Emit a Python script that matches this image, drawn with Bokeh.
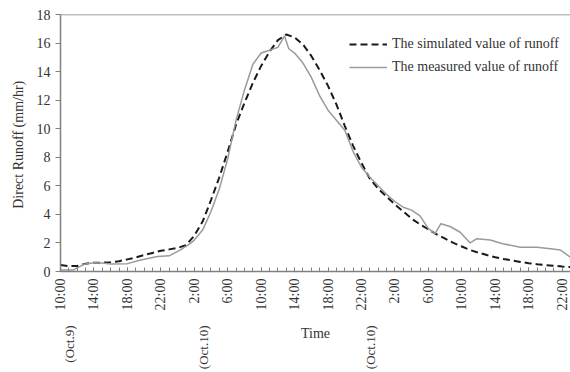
import math
from bokeh.plotting import figure
from bokeh.models import FixedTicker, Span, Legend, LegendItem, Range1d, LinearAxis
from bokeh.embed import file_html
from bokeh.resources import INLINE

# ---- data (hours after 10:00 Oct 9) ----
sim_hours = list(range(0, 62))
sim_values = [0.45, 0.38, 0.38, 0.55, 0.62, 0.62, 0.65, 0.72, 0.85, 0.98,
              1.15, 1.30, 1.45, 1.55, 1.65, 1.85, 2.5, 3.5, 5.0, 6.6,
              8.4, 10.3, 11.8, 13.2, 14.4, 15.4, 16.2, 16.6, 16.4, 15.9,
              15.1, 14.1, 13.0, 11.7, 10.2, 8.8, 7.6, 6.5, 5.8, 5.25,
              4.7, 4.2, 3.7, 3.3, 2.95, 2.6, 2.3, 2.0, 1.75, 1.5,
              1.32, 1.15, 1.0, 0.88, 0.77, 0.67, 0.58, 0.51, 0.45, 0.40,
              0.35, 0.31]

meas_hours = [0, 1.5, 2.8, 4, 5, 6, 8, 9.6, 11.6, 13, 14.3, 15.5, 16, 17, 18,
              19, 20, 21, 22, 23, 24, 25, 26, 26.8, 27.3, 28, 29, 30, 31, 32,
              33, 34, 35, 36, 37, 38, 39, 40, 41, 42, 43, 44, 44.8, 45.5,
              46.6, 47.8, 49, 49.8, 51.4, 52.9, 55, 57, 58.6, 59.8, 61]
meas_values = [0.1, 0.1, 0.5, 0.62, 0.6, 0.52, 0.55, 0.8, 1.05, 1.1, 1.5, 1.95,
               2.2, 2.9, 4.2, 5.8, 7.9, 10.6, 12.7, 14.5, 15.3, 15.5, 15.7,
               16.5, 15.6, 15.3, 14.6, 13.6, 12.3, 11.3, 10.6, 9.9, 8.4, 7.3,
               6.6, 6.0, 5.4, 4.9, 4.5, 4.3, 3.9, 3.0, 2.65, 3.35, 3.15, 2.75,
               2.0, 2.3, 2.2, 1.95, 1.7, 1.7, 1.6, 1.5, 1.0]

tick_hours = list(range(0, 61, 4))
tick_labels = ["10:00", "14:00", "18:00", "22:00", "2:00", "6:00", "10:00",
               "14:00", "18:00", "22:00", "2:00", "6:00", "10:00", "14:00",
               "18:00", "22:00"]
date_hours = [0, 16, 36]
date_labels = ["(Oct.9)", "(Oct.10)", "(Oct.10)"]

y_ticks = list(range(0, 19, 2))

SERIF = "Liberation Serif"
AXIS_GRAY = "#808080"
TEXT = "#333333"
DATE_SHIFT = 1.1  # hours: date text sits a little right of its time tick

p = figure(width=570, height=372, output_backend="svg", toolbar_location=None,
           x_range=Range1d(0, 61), y_range=Range1d(0, 18),
           min_border_left=60, min_border_right=0, min_border_top=14,
           min_border_bottom=101)
p.outline_line_color = None
p.grid.grid_line_color = None
p.background_fill_color = "white"
p.border_fill_color = "white"

sim = p.line(sim_hours, sim_values, line_color="#1a1a1a", line_width=2,
             line_dash="7 4")
meas = p.line(meas_hours, meas_values, line_color="#9a9a9a", line_width=1.5)

# top border line
p.add_layout(Span(location=18, dimension="width", line_color=AXIS_GRAY,
                  line_width=1.5))

# x axis
xa = p.xaxis[0]
xa.ticker = FixedTicker(ticks=tick_hours, minor_ticks=list(range(0, 62)))
xa.major_label_overrides = {h: l for h, l in zip(tick_hours, tick_labels)}
xa.major_label_orientation = math.pi / 2
xa.major_tick_in = 4
xa.major_tick_out = 0
xa.minor_tick_in = 4
xa.minor_tick_out = 0
xa.major_tick_line_color = AXIS_GRAY
xa.minor_tick_line_color = AXIS_GRAY
xa.axis_line_color = AXIS_GRAY
xa.axis_line_width = 1.5
xa.major_label_text_font = SERIF
xa.major_label_text_font_size = "14px"
xa.major_label_text_color = TEXT
xa.major_label_standoff = 7
xa.axis_label = "Time"
xa.axis_label_text_font = SERIF
xa.axis_label_text_font_size = "14px"
xa.axis_label_text_font_style = "normal"
xa.axis_label_text_color = TEXT
xa.axis_label_standoff = 13

# second axis below carrying the date notes
date_ticks = [h + DATE_SHIFT for h in date_hours]
da = LinearAxis(ticker=FixedTicker(ticks=date_ticks, minor_ticks=[]),
                major_label_overrides={t: l for t, l in zip(date_ticks, date_labels)},
                major_label_orientation=math.pi / 2,
                axis_line_color=None, major_tick_line_color=None,
                minor_tick_line_color=None,
                major_tick_in=0, major_tick_out=0,
                major_label_standoff=-19,
                major_label_text_font=SERIF,
                major_label_text_font_size="13px",
                major_label_text_color=TEXT)
p.add_layout(da, "below")

# y axis
ya = p.yaxis[0]
ya.ticker = FixedTicker(ticks=y_ticks, minor_ticks=[])
ya.major_tick_in = 0
ya.major_tick_out = 5
ya.major_tick_line_color = AXIS_GRAY
ya.axis_line_color = AXIS_GRAY
ya.axis_line_width = 1.5
ya.major_label_text_font = SERIF
ya.major_label_text_font_size = "14px"
ya.major_label_text_color = TEXT
ya.major_label_standoff = 5
ya.axis_label = "Direct Runoff  (mm/hr)"
ya.axis_label_text_font = SERIF
ya.axis_label_text_font_size = "14px"
ya.axis_label_text_font_style = "normal"
ya.axis_label_text_color = TEXT
ya.axis_label_standoff = 8

legend = Legend(items=[LegendItem(label="The simulated value of runoff", renderers=[sim]),
                       LegendItem(label="The measured value of runoff", renderers=[meas])],
                location=(289, 194), padding=0, margin=0, spacing=3,
                glyph_width=38, glyph_height=20, label_height=20,
                label_standoff=5, border_line_color=None,
                background_fill_alpha=0,
                label_text_font=SERIF, label_text_font_size="14px",
                label_text_color=TEXT)
p.add_layout(legend)

open("out.html", "w").write(file_html(p, INLINE))
